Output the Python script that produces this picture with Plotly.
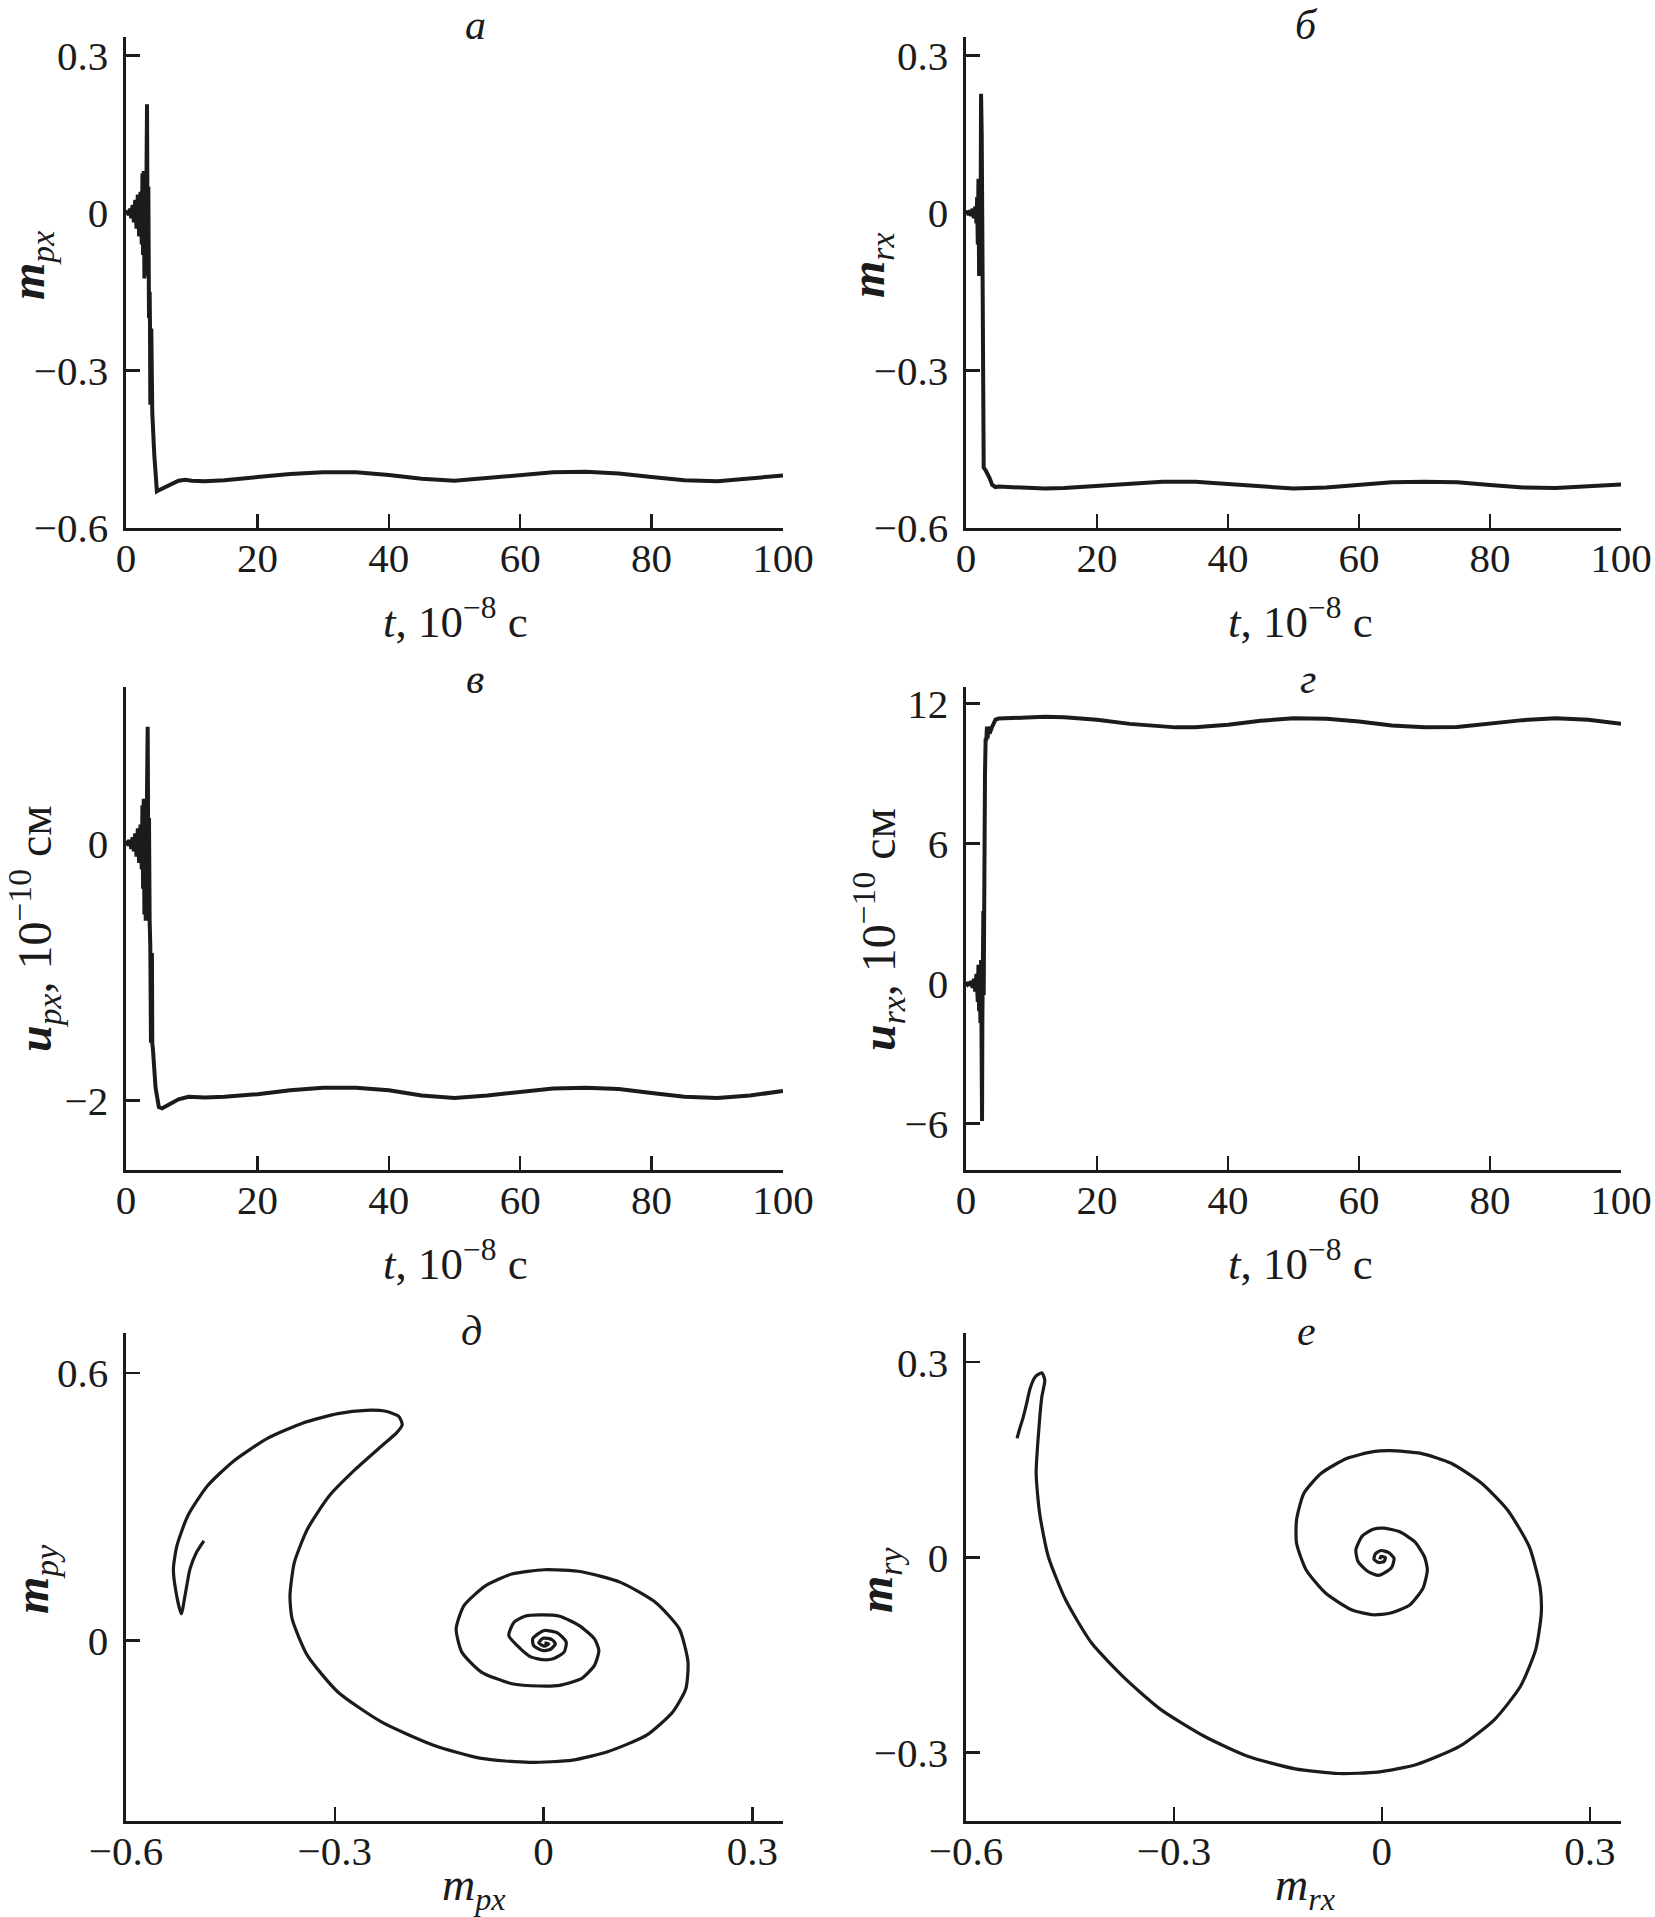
import plotly.graph_objects as go

W, H = 1655, 1917

# ---------------- data ----------------
# panel а: m_px(t)
t_mpx = [0, 0.2, 0.4, 0.6, 0.8, 1.0, 1.2, 1.4, 1.6, 1.8, 2.0, 2.2, 2.4, 2.5, 2.6, 2.7, 2.8, 2.9,
         3.0, 3.1, 3.2, 3.3, 3.4, 3.5, 3.6, 3.65, 3.7, 3.75, 3.8, 3.85, 3.9, 4.0, 4.3, 4.7, 5.0,
         6, 7, 8, 9, 10, 12, 15, 20, 25, 30, 35, 40, 45, 50, 55, 60, 65, 70, 75, 80, 85, 90, 95, 100]
mpx = [0, 0.003, -0.004, 0.008, -0.01, 0.015, -0.018, 0.025, -0.03, 0.035, -0.045, 0.04, -0.06,
       0.075, -0.08, 0.08, -0.125, 0.07, -0.12, 0.1, 0.207, -0.1, 0.05, -0.2, -0.15, -0.21, -0.365,
       -0.21, -0.36, -0.22, -0.365, -0.38, -0.46, -0.53, -0.528,
       -0.522, -0.515, -0.51, -0.508, -0.51, -0.511, -0.509, -0.503, -0.497, -0.494, -0.494, -0.499,
       -0.506, -0.51, -0.505, -0.499, -0.494, -0.493, -0.496, -0.503, -0.509, -0.511, -0.506, -0.500]

# panel б: m_rx(t)
t_mrx = [0, 0.2, 0.4, 0.6, 0.8, 1.0, 1.2, 1.4, 1.6, 1.7, 1.8, 1.9, 2.0, 2.1, 2.2, 2.3, 2.4, 2.5,
         2.6, 2.7, 3.0, 3.3, 3.6, 4.0, 4.5, 5, 7, 10, 12, 15, 20, 25, 30, 35, 40, 45, 50, 55, 60,
         65, 70, 75, 80, 85, 90, 95, 100]
mrx = [0, 0.003, -0.004, 0.005, -0.006, 0.008, -0.01, 0.012, -0.02, 0.03, -0.06, 0.065, -0.12,
       0.05, -0.1, 0.227, 0.15, -0.05, -0.3, -0.485, -0.49, -0.497, -0.505, -0.518, -0.522,
       -0.521, -0.522, -0.524, -0.525, -0.524, -0.52, -0.515, -0.512, -0.512, -0.516, -0.521,
       -0.525, -0.523, -0.518, -0.513, -0.512, -0.513, -0.518, -0.523, -0.524, -0.521, -0.517]

# panel в: u_px(t), 10^-10 cm
t_upx = [0, 0.2, 0.4, 0.6, 0.8, 1.0, 1.2, 1.4, 1.6, 1.8, 2.0, 2.2, 2.4, 2.5, 2.6, 2.7, 2.8, 2.9,
         3.0, 3.1, 3.3, 3.4, 3.5, 3.6, 3.7, 3.8, 3.85, 3.9, 3.95, 4.0, 4.1, 4.5, 5.0, 5.5, 6.5, 8,
         9.5, 12, 15, 20, 25, 30, 35, 40, 45, 50, 55, 60, 65, 70, 75, 80, 85, 90, 95, 100]
upx = [0, 0.01, -0.015, 0.03, -0.04, 0.05, -0.06, 0.08, -0.1, 0.12, -0.15, 0.15, -0.2, 0.3, -0.35,
       0.35, -0.55, 0.3, -0.6, 0.4, 0.91, -0.3, 0.2, -0.6, -0.8, -1.55, -0.85, -1.55, -0.85, -1.55,
       -1.6, -1.9, -2.05, -2.06, -2.03, -1.99, -1.97, -1.975, -1.97, -1.95, -1.92, -1.9, -1.9,
       -1.92, -1.96, -1.98, -1.96, -1.93, -1.905, -1.9, -1.91, -1.94, -1.97, -1.98, -1.96, -1.925]

# panel г: u_rx(t), 10^-10 cm
t_urx = [0, 0.2, 0.4, 0.6, 0.8, 1.0, 1.2, 1.4, 1.6, 1.8, 1.9, 2.0, 2.1, 2.2, 2.3, 2.4, 2.45, 2.5,
         2.55, 2.6, 2.65, 2.7, 2.75, 2.9, 3.0, 3.1, 3.2, 3.3, 3.4, 3.6, 4.0, 4.5, 5, 7, 10, 12, 15,
         20, 25, 30, 32, 35, 40, 45, 50, 55, 60, 65, 70, 75, 80, 85, 90, 95, 100]
urx = [0, -0.05, 0.05, -0.1, 0.1, -0.2, 0.2, -0.35, 0.4, -0.8, 0.8, -1.2, 0.7, -1.7, 1.0, -1.75,
       -5.9, -1.5, 3.1, -1.0, 3.1, -0.5, 3.2, 9.0, 10.5, 10.4, 11.0, 10.5, 11.0, 10.7, 11.0, 11.3,
       11.35, 11.38, 11.4, 11.42, 11.4, 11.3, 11.12, 11.0, 10.97, 10.98, 11.08, 11.25, 11.36,
       11.34, 11.22, 11.05, 10.97, 10.99, 11.12, 11.28, 11.36, 11.3, 11.12]

# panel д: phase trajectory m_py(m_px)
ph_mpx = [0.0013, 0.0075, 0.0013, -0.0069, -0.0006, 0.0119, 0.0169, 0.0094, -0.0019, -0.0144,
          -0.0156, -0.0081, 0.0013, 0.02, 0.0325, 0.0294, 0.0138, 0.0013, -0.0175, -0.0331, -0.05,
          -0.0425, -0.0269, -0.005, 0.0231, 0.0513, 0.0731, 0.0794, 0.0731, 0.0544, 0.0231, -0.005,
          -0.0456, -0.0894, -0.1175, -0.1256, -0.1144, -0.0831, -0.0456, 0.0013, 0.0544, 0.1106,
          0.1606, 0.195, 0.2075, 0.2044, 0.1856, 0.1481, 0.0919, 0.0419, -0.0206, -0.0894, -0.1581,
          -0.2331, -0.2956, -0.3394, -0.3613, -0.3644, -0.3581, -0.3394, -0.3081, -0.2706, -0.2331,
          -0.2113, -0.2031, -0.2081, -0.2269, -0.255, -0.2956, -0.3456, -0.3956, -0.4456, -0.4831,
          -0.5113, -0.5269, -0.5319, -0.5281, -0.5206, -0.5144, -0.5081, -0.4988, -0.4881]
ph_mpy = [-0.0052, -0.0075, -0.0127, -0.0052, 0.0052, 0.0022, -0.0075, -0.0201, -0.0224, -0.0112,
          0.0037, 0.0149, 0.0224, 0.0171, -0.0037, -0.0261, -0.041, -0.0432, -0.0373, -0.0186,
          0.0112, 0.041, 0.0544, 0.0574, 0.0544, 0.0335, 0.0037, -0.0224, -0.0559, -0.0857,
          -0.1006, -0.1021, -0.0969, -0.0708, -0.0261, 0.0261, 0.0783, 0.123, 0.1491, 0.1588,
          0.1543, 0.1304, 0.0857, 0.0261, -0.0484, -0.1081, -0.1603, -0.2124, -0.2497, -0.2683,
          -0.2735, -0.2646, -0.2348, -0.1826, -0.1155, -0.0335, 0.0484, 0.1006, 0.1752, 0.2497,
          0.3242, 0.3838, 0.436, 0.4658, 0.4845, 0.5031, 0.5143, 0.5165, 0.5091, 0.4882, 0.4547,
          0.4025, 0.3466, 0.2795, 0.2124, 0.1602, 0.1081, 0.0596, 0.1081, 0.1602, 0.1975, 0.2236]

# panel е: phase trajectory m_ry(m_rx)
ph_mrx = [-0.0031, -0.0013, 0.005, 0.0031, -0.005, -0.0113, -0.0094, -0.0013, 0.0094, 0.0175,
          0.0144, 0.0031, -0.005, -0.02, -0.0344, -0.0375, -0.0281, -0.0125, 0.0031, 0.025, 0.0469,
          0.0613, 0.0656, 0.0594, 0.0406, 0.0125, -0.0125, -0.0438, -0.0813, -0.1094, -0.1231,
          -0.1231, -0.1125, -0.0875, -0.05, -0.0125, 0.0125, 0.0563, 0.1, 0.1438, 0.1813, 0.2125,
          0.2281, 0.23, 0.2219, 0.2, 0.1625, 0.1125, 0.05, -0.0063, -0.0625, -0.125, -0.1938,
          -0.2563, -0.3188, -0.3688, -0.4188, -0.4563, -0.4813, -0.4938, -0.4988, -0.495, -0.4906,
          -0.4863, -0.4906, -0.5, -0.5075, -0.5125, -0.5175, -0.5231, -0.5263]
ph_mry = [-0.0026, 0.0015, 0, -0.0061, -0.0077, -0.0026, 0.0056, 0.0107, 0.0077, -0.001, -0.0148,
          -0.024, -0.0276, -0.0215, -0.0061, 0.0118, 0.0332, 0.0435, 0.045, 0.0399, 0.0246, 0.0015,
          -0.0189, -0.0471, -0.0726, -0.0854, -0.088, -0.0803, -0.0547, -0.0189, 0.022, 0.0578,
          0.0987, 0.1294, 0.1524, 0.1627, 0.1642, 0.1601, 0.1448, 0.1141, 0.0731, 0.0169, -0.0445,
          -0.0854, -0.1417, -0.198, -0.2491, -0.29, -0.3182, -0.3299, -0.332, -0.3248, -0.3054,
          -0.2747, -0.2338, -0.1877, -0.1315, -0.065, 0.0015, 0.068, 0.1294, 0.1959, 0.2471,
          0.2726, 0.2839, 0.2777, 0.2598, 0.2368, 0.2153, 0.1959, 0.1831]

# tick values / labels
t_ticks = [0, 20, 40, 60, 80, 100]
t_ticktext = ["0", "20", "40", "60", "80", "100"]
m_ticks = [-0.6, -0.3, 0, 0.3]
m_ticktext = ["\u22120.6", "\u22120.3", "0", "0.3"]
upx_ticks = [0, -2]
upx_ticktext = ["0", "\u22122"]
urx_ticks = [-6, 0, 6, 12]
urx_ticktext = ["\u22126", "0", "6", "12"]
mpy_ticks = [0, 0.6]
mpy_ticktext = ["0", "0.6"]
mry_ticks = [-0.3, 0, 0.3]
mry_ticktext = ["\u22120.3", "0", "0.3"]

# ---------------- styling / layout ----------------
FONT = "Liberation Serif, Times New Roman, serif"
INK = "#1b1b1b"
TICK_SIZE = 41


def fx(p):
    return p / W


def fy(p):
    return 1 - p / H


cols = [(126, 783), (966, 1621)]
rows = [(37, 528), (687, 1170), (1333, 1821)]

panels = [
    dict(x=t_mpx, y=mpx, c=0, r=0, xr=[0, 100], yr=[-0.6, 0.335], xt=(t_ticks, t_ticktext),
         yt=(m_ticks, m_ticktext), w=4, spline=False),
    dict(x=t_mrx, y=mrx, c=1, r=0, xr=[0, 100], yr=[-0.6, 0.335], xt=(t_ticks, t_ticktext),
         yt=(m_ticks, m_ticktext), w=4, spline=False),
    dict(x=t_upx, y=upx, c=0, r=1, xr=[0, 100], yr=[-2.54, 1.22], xt=(t_ticks, t_ticktext),
         yt=(upx_ticks, upx_ticktext), w=4, spline=False),
    dict(x=t_urx, y=urx, c=1, r=1, xr=[0, 100], yr=[-8, 12.7], xt=(t_ticks, t_ticktext),
         yt=(urx_ticks, urx_ticktext), w=4, spline=False),
    dict(x=ph_mpx, y=ph_mpy, c=0, r=2, xr=[-0.6, 0.344], yr=[-0.405, 0.69],
         xt=(m_ticks, m_ticktext), yt=(mpy_ticks, mpy_ticktext), w=3.2, spline=True),
    dict(x=ph_mrx, y=ph_mry, c=1, r=2, xr=[-0.6, 0.345], yr=[-0.405, 0.345],
         xt=(m_ticks, m_ticktext), yt=(mry_ticks, mry_ticktext), w=3.2, spline=True),
]

fig = go.Figure()
layout = dict(
    template="none",
    width=W, height=H, margin=dict(l=0, r=0, t=0, b=0, autoexpand=False),
    paper_bgcolor="white", plot_bgcolor="white", showlegend=False,
    font=dict(family=FONT, color=INK, size=TICK_SIZE),
)

for i, p in enumerate(panels, start=1):
    xa = "xaxis" if i == 1 else f"xaxis{i}"
    ya = "yaxis" if i == 1 else f"yaxis{i}"
    xref = "x" if i == 1 else f"x{i}"
    yref = "y" if i == 1 else f"y{i}"
    c0, c1 = cols[p["c"]]
    r0, r1 = rows[p["r"]]
    common = dict(showline=True, linecolor=INK, linewidth=2.6, ticks="inside", ticklen=14,
                  tickwidth=2.4, tickcolor=INK, showgrid=False, zeroline=False, mirror=False,
                  automargin=False,
                  tickfont=dict(family=FONT, size=TICK_SIZE, color=INK), fixedrange=True)
    layout[xa] = dict(domain=[fx(c0), fx(c1)], range=p["xr"], anchor=yref,
                      tickmode="array", tickvals=p["xt"][0], ticktext=p["xt"][1],
                      ticklabelstandoff=-8, **common)
    layout[ya] = dict(domain=[fy(r1), fy(r0)], range=p["yr"], anchor=xref,
                      tickmode="array", tickvals=p["yt"][0], ticktext=p["yt"][1],
                      ticklabelstandoff=7, **common)
    line = dict(color=INK, width=p["w"])
    if p["spline"]:
        line.update(shape="spline", smoothing=0.6)
    fig.add_trace(go.Scatter(x=p["x"], y=p["y"], mode="lines", line=line, xaxis=xref,
                             yaxis=yref, hoverinfo="skip", cliponaxis=True))

fig.update_layout(**layout)

ann = []


def add_text(text, x, y, size=44, angle=0):
    ann.append(dict(text=text, x=fx(x), y=fy(y), xref="paper", yref="paper", showarrow=False,
                    xanchor="center", yanchor="middle", textangle=angle,
                    font=dict(family=FONT, size=size, color=INK)))


# panel letters
for letter, x, y in [("а", 475, 25), ("б", 1306, 25), ("в", 475, 679), ("г", 1308, 679),
                     ("д", 472, 1331), ("е", 1306, 1331)]:
    add_text(f"<i>{letter}</i>", x, y, size=42)

# x axis titles
t_title = "<i>t</i>, 10<sup>\u22128</sup> с"
for x, y in [(455, 618), (1300, 618), (455, 1260), (1300, 1260)]:
    add_text(t_title, x, y, size=45)
add_text("<i>m</i><sub><i>px</i></sub>", 474, 1888, size=46)
add_text("<i>m</i><sub><i>rx</i></sub>", 1305, 1888, size=46)

# y axis titles
add_text("<b><i>m</i></b><sub><i>px</i></sub>", 31, 266, size=48, angle=-90)
add_text("<b><i>m</i></b><sub><i>rx</i></sub>", 871, 266, size=48, angle=-90)
add_text("<b><i>u</i></b><sub><i>px</i></sub>, 10<sup>\u221210</sup> см", 35, 929, size=48, angle=-90)
add_text("<b><i>u</i></b><sub><i>rx</i></sub>, 10<sup>\u221210</sup> см", 879, 929, size=48, angle=-90)
add_text("<b><i>m</i></b><sub><i>py</i></sub>", 35, 1580, size=48, angle=-90)
add_text("<b><i>m</i></b><sub><i>ry</i></sub>", 879, 1580, size=48, angle=-90)

fig.update_layout(annotations=ann)
fig.write_html(
    "out.html",
    config={"displayModeBar": False, "staticPlot": True},
    post_script="document.body.style.margin='0';document.body.style.overflow='hidden';",
)
